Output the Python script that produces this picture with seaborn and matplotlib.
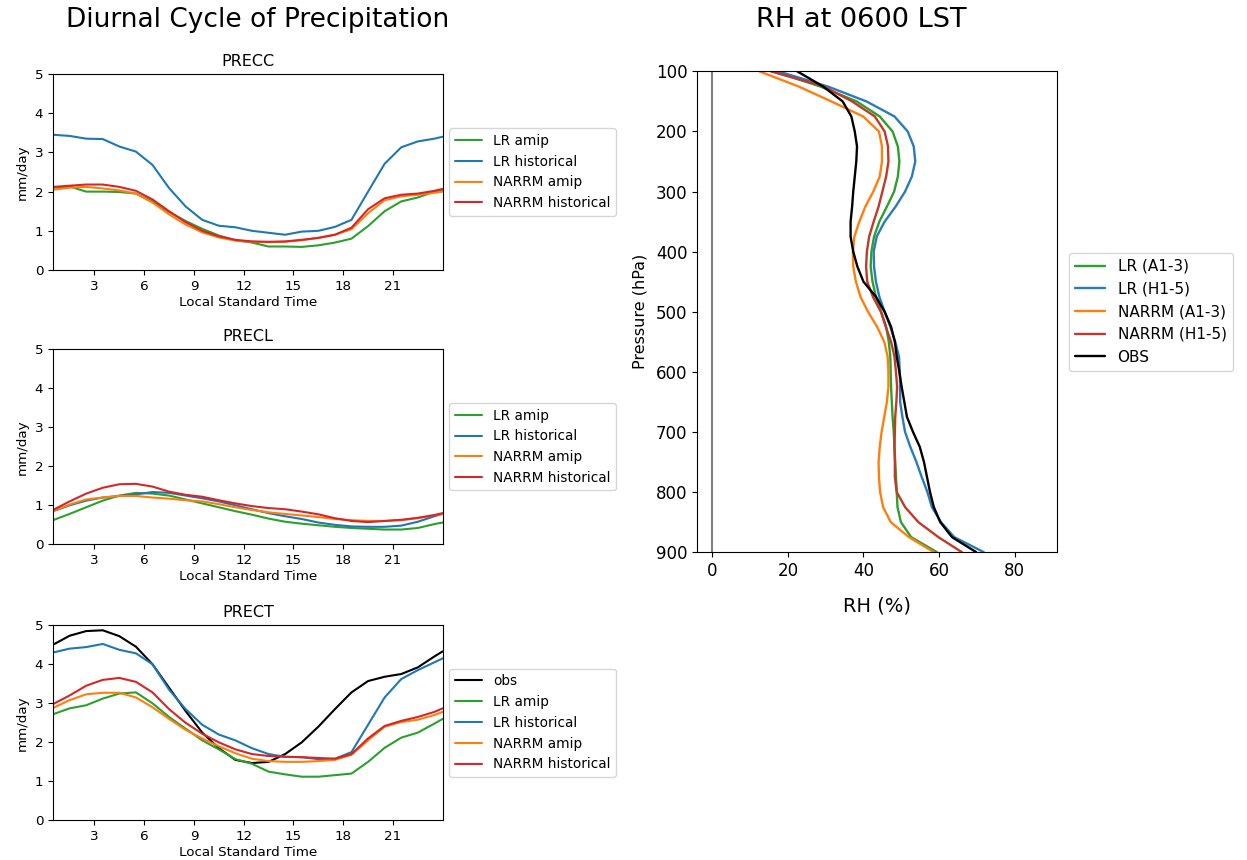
import matplotlib

matplotlib.use("Agg")
import matplotlib.pyplot as plt
import numpy as np
import pandas as pd
import seaborn as sns

# hours (local standard time); last point wraps to the end of the day
HOURS = [0.5, 1.5, 2.5, 3.5, 4.5, 5.5, 6.5, 7.5, 8.5, 9.5, 10.5, 11.5,
         12.5, 13.5, 14.5, 15.5, 16.5, 17.5, 18.5, 19.5, 20.5, 21.5, 22.5, 23.5, 24.0]

PRECC_LR_AMIP = [2.10, 2.13, 2.00, 2.00, 1.99, 1.95, 1.75, 1.48, 1.25, 1.05, 0.88, 0.76,
                 0.70, 0.60, 0.60, 0.59, 0.63, 0.70, 0.80, 1.12, 1.50, 1.75, 1.85, 2.00, 2.05]
PRECC_LR_HIST = [3.45, 3.42, 3.35, 3.34, 3.15, 3.02, 2.68, 2.09, 1.62, 1.28, 1.13, 1.09,
                 1.00, 0.95, 0.90, 0.98, 1.00, 1.10, 1.28, 2.00, 2.71, 3.13, 3.28, 3.35, 3.40]
PRECC_NARRM_AMIP = [2.05, 2.10, 2.12, 2.08, 2.03, 1.95, 1.72, 1.42, 1.16, 0.96, 0.83, 0.75,
                    0.72, 0.71, 0.72, 0.76, 0.82, 0.90, 1.04, 1.45, 1.78, 1.88, 1.92, 1.97, 2.00]
PRECC_NARRM_HIST = [2.12, 2.15, 2.18, 2.18, 2.12, 2.02, 1.80, 1.50, 1.22, 1.00, 0.86, 0.77,
                    0.73, 0.72, 0.73, 0.77, 0.82, 0.90, 1.08, 1.55, 1.83, 1.92, 1.95, 2.02, 2.07]

PRECL_LR_AMIP = [0.62, 0.78, 0.95, 1.12, 1.25, 1.32, 1.30, 1.25, 1.15, 1.05, 0.95, 0.85,
                 0.76, 0.66, 0.58, 0.53, 0.49, 0.45, 0.42, 0.40, 0.38, 0.38, 0.42, 0.52, 0.56]
PRECL_LR_HIST = [0.85, 1.00, 1.12, 1.20, 1.24, 1.28, 1.34, 1.32, 1.25, 1.18, 1.10, 1.00,
                 0.90, 0.80, 0.72, 0.65, 0.56, 0.50, 0.46, 0.45, 0.45, 0.48, 0.58, 0.72, 0.78]
PRECL_NARRM_AMIP = [0.85, 1.02, 1.15, 1.20, 1.24, 1.24, 1.20, 1.17, 1.13, 1.10, 1.03, 0.95,
                    0.88, 0.82, 0.78, 0.74, 0.70, 0.65, 0.62, 0.60, 0.60, 0.62, 0.67, 0.75, 0.78]
PRECL_NARRM_HIST = [0.88, 1.10, 1.30, 1.45, 1.54, 1.55, 1.48, 1.35, 1.27, 1.22, 1.13, 1.05,
                    0.98, 0.93, 0.90, 0.84, 0.77, 0.67, 0.60, 0.57, 0.60, 0.63, 0.68, 0.75, 0.80]

PRECT_OBS = [4.50, 4.73, 4.85, 4.87, 4.72, 4.45, 4.00, 3.40, 2.80, 2.25, 1.85, 1.55,
             1.47, 1.50, 1.70, 2.00, 2.40, 2.85, 3.28, 3.57, 3.68, 3.75, 3.92, 4.20, 4.33]
PRECT_LR_AMIP = [2.72, 2.87, 2.95, 3.12, 3.25, 3.28, 3.00, 2.65, 2.35, 2.05, 1.82, 1.57,
                 1.45, 1.25, 1.18, 1.12, 1.12, 1.16, 1.20, 1.50, 1.86, 2.12, 2.25, 2.48, 2.60]
PRECT_LR_HIST = [4.30, 4.40, 4.44, 4.52, 4.37, 4.28, 4.00, 3.35, 2.85, 2.45, 2.20, 2.05,
                 1.85, 1.70, 1.63, 1.62, 1.57, 1.58, 1.75, 2.45, 3.15, 3.62, 3.85, 4.05, 4.15]
PRECT_NARRM_AMIP = [2.88, 3.08, 3.23, 3.27, 3.27, 3.15, 2.90, 2.60, 2.32, 2.10, 1.90, 1.72,
                    1.58, 1.52, 1.50, 1.50, 1.52, 1.55, 1.68, 2.05, 2.40, 2.52, 2.58, 2.70, 2.78]
PRECT_NARRM_HIST = [2.98, 3.20, 3.45, 3.60, 3.65, 3.55, 3.28, 2.85, 2.50, 2.22, 2.00, 1.82,
                    1.70, 1.65, 1.63, 1.62, 1.60, 1.58, 1.70, 2.10, 2.42, 2.55, 2.65, 2.78, 2.87]

# RH profile at 0600 LST, every 25 hPa from 100 to 900
PRESSURE = list(range(100, 925, 25))
RH_LR_A = [16.5, 28.5, 38.2, 44.3, 47.7, 49.1, 49.5, 49.1, 48.1, 46.2, 44.2, 42.8,
           42.1, 41.9, 42.4, 43.3, 44.7, 46.0, 46.7, 47.1, 47.2, 47.3, 47.5, 47.7,
           48.0, 48.2, 48.4, 48.6, 48.8, 49.0, 49.9, 52.6, 59.4]
RH_LR_H = [17.5, 30.5, 40.8, 48.2, 51.7, 53.3, 53.7, 52.8, 51.0, 48.5, 45.6, 43.5,
           42.7, 42.8, 43.3, 44.2, 45.6, 47.1, 48.4, 49.4, 49.6, 49.7, 49.7, 50.3,
           51.0, 52.4, 54.0, 55.4, 56.9, 58.1, 60.5, 64.0, 71.8]
RH_NARRM_A = [12.5, 22.8, 31.5, 39.9, 44.1, 44.9, 44.9, 44.3, 42.6, 40.5, 38.9, 37.6,
              37.2, 37.3, 38.0, 39.2, 41.2, 43.6, 45.5, 46.4, 46.6, 46.6, 46.2, 45.5,
              44.8, 44.3, 44.0, 44.1, 44.4, 45.2, 47.2, 52.0, 58.6]
RH_NARRM_H = [15.5, 29.5, 37.0, 43.0, 45.6, 46.5, 46.6, 46.0, 45.0, 44.0, 42.7, 41.5,
              40.9, 40.7, 41.0, 42.5, 44.6, 45.9, 47.3, 48.2, 48.6, 48.9, 48.7, 48.4,
              48.3, 48.2, 48.3, 48.3, 48.8, 51.0, 54.5, 59.8, 66.0]
RH_OBS = [22.5, 29.3, 34.5, 36.8, 37.7, 38.3, 38.1, 37.7, 37.3, 37.0, 36.6, 36.6,
          37.3, 38.4, 40.0, 43.3, 45.6, 47.3, 48.3, 48.8, 49.5, 50.1, 50.8, 51.5,
          53.1, 54.9, 56.0, 56.8, 57.6, 58.6, 60.3, 63.4, 69.8]

GREEN, BLUE, ORANGE, RED = "#2ca02c", "#1f77b4", "#ff7f0e", "#d62728"


def plot_panel(ax, title, series):
    for label, values, color in series:
        sns.lineplot(x=HOURS, y=values, color=color, label=label, ax=ax, linewidth=1.5)
    ax.set_title(title, fontsize=11.5)
    ax.set_xlim(0.5, 24)
    ax.set_ylim(0, 5)
    ax.set_xticks([3, 6, 9, 12, 15, 18, 21])
    ax.set_yticks([0, 1, 2, 3, 4, 5])
    ax.set_xlabel("Local Standard Time", fontsize=9.7, labelpad=2)
    ax.set_ylabel("mm/day", fontsize=9.7)
    ax.tick_params(labelsize=9.7)
    ax.legend(loc="center left", bbox_to_anchor=(1.0, 0.5), fontsize=9.8)


def main():
    sns.set_style("ticks", rc={
        "text.color": "black",
        "axes.labelcolor": "black",
        "axes.edgecolor": "black",
        "xtick.color": "black",
        "ytick.color": "black",
    })
    plt.rcParams["font.family"] = ["DejaVu Sans"]

    fig = plt.figure(figsize=(12.47, 8.6), dpi=100)
    ax_c = fig.add_axes([0.0425, 0.686, 0.3125, 0.228])
    ax_l = fig.add_axes([0.0425, 0.367, 0.3125, 0.227])
    ax_t = fig.add_axes([0.0425, 0.046, 0.3125, 0.227])
    ax_rh = fig.add_axes([0.559, 0.358, 0.289, 0.559])

    plot_panel(ax_c, "PRECC", [
        ("LR amip", PRECC_LR_AMIP, GREEN),
        ("LR historical", PRECC_LR_HIST, BLUE),
        ("NARRM amip", PRECC_NARRM_AMIP, ORANGE),
        ("NARRM historical", PRECC_NARRM_HIST, RED),
    ])
    plot_panel(ax_l, "PRECL", [
        ("LR amip", PRECL_LR_AMIP, GREEN),
        ("LR historical", PRECL_LR_HIST, BLUE),
        ("NARRM amip", PRECL_NARRM_AMIP, ORANGE),
        ("NARRM historical", PRECL_NARRM_HIST, RED),
    ])
    plot_panel(ax_t, "PRECT", [
        ("obs", PRECT_OBS, "black"),
        ("LR amip", PRECT_LR_AMIP, GREEN),
        ("LR historical", PRECT_LR_HIST, BLUE),
        ("NARRM amip", PRECT_NARRM_AMIP, ORANGE),
        ("NARRM historical", PRECT_NARRM_HIST, RED),
    ])

    profiles = pd.DataFrame({
        "pressure": PRESSURE,
        "LR (A1-3)": RH_LR_A,
        "LR (H1-5)": RH_LR_H,
        "NARRM (A1-3)": RH_NARRM_A,
        "NARRM (H1-5)": RH_NARRM_H,
        "OBS": RH_OBS,
    })
    rh_colors = [GREEN, "#2b7bba", ORANGE, "#c0392b", "black"]
    ax_rh.axvline(0, color="gray", linewidth=1.5)
    for name, color in zip(profiles.columns[1:], rh_colors):
        sns.lineplot(data=profiles, x=name, y="pressure", sort=False, orient="y",
                     color=color, label=name, ax=ax_rh, linewidth=1.7)
    ax_rh.set_ylim(900, 100)
    ax_rh.set_xlim(-4.0, 91.3)
    ax_rh.set_yticks(np.arange(100, 1000, 100))
    ax_rh.set_xticks([0, 20, 40, 60, 80])
    ax_rh.tick_params(labelsize=12)
    ax_rh.set_xlabel("RH (%)", fontsize=14, labelpad=12)
    ax_rh.set_ylabel("Pressure (hPa)", fontsize=11.5, labelpad=6)
    ax_rh.legend(loc="center left", bbox_to_anchor=(1.01, 0.5), fontsize=11)

    fig.text(0.2065, 0.977, "Diurnal Cycle of Precipitation", fontsize=19,
             ha="center", va="center")
    fig.text(0.691, 0.977, "RH at 0600 LST", fontsize=19.6, ha="center", va="center")

    fig.savefig("out.png", dpi=100)
    plt.close(fig)


if __name__ == "__main__":
    main()
